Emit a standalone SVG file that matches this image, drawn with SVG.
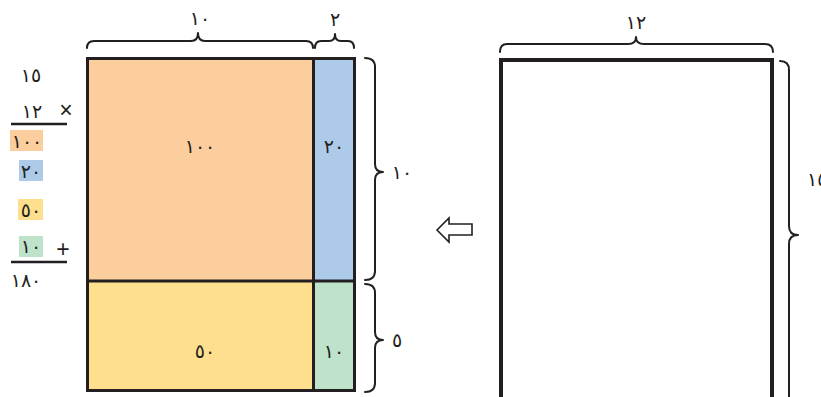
<svg xmlns="http://www.w3.org/2000/svg" width="821" height="397" viewBox="0 0 821 397">
<style>
.t{font-family:"DejaVu Sans",sans-serif;font-size:19px;letter-spacing:1px;fill:#231f20;text-anchor:middle;dominant-baseline:central}
.s{font-family:"Liberation Sans",sans-serif;font-size:23px;fill:#231f20;text-anchor:middle;dominant-baseline:central}
.b{fill:none;stroke:#231f20;stroke-width:2;stroke-linejoin:round;stroke-linecap:round}
.r{stroke:#231f20;stroke-width:3}
.ln{stroke:#231f20;stroke-width:2.5}
</style>
<rect width="821" height="397" fill="#fff"/>
<g id="calc">
<text class="t" x="31" y="75">١٥</text>
<text class="t" x="32" y="111">١٢</text>
<text class="s" x="66" y="110">×</text>
<line class="ln" x1="11" y1="124" x2="67" y2="124"/>
<rect x="10" y="130" width="33" height="21" fill="#fdce9d"/>
<text class="t" x="27" y="141">١٠٠</text>
<rect x="19" y="160" width="24" height="21" fill="#adcbe9"/>
<text class="t" x="31" y="171">٢٠</text>
<rect x="18" y="199" width="25" height="21" fill="#fddf8e"/>
<text class="t" x="31" y="210">٥٠</text>
<rect x="19" y="236" width="24" height="21" fill="#bfe3ca"/>
<text class="t" x="31" y="246">١٠</text>
<text class="s" x="63" y="249">+</text>
<line class="ln" x1="11" y1="262" x2="67" y2="262"/>
<text class="t" x="26" y="280">١٨٠</text>
</g>
<g id="area">
<rect x="87.5" y="58.5" width="226" height="222.5" fill="#fdce9d"/>
<rect x="313.5" y="58.5" width="41" height="222.5" fill="#adcbe9"/>
<rect x="87.5" y="281" width="226" height="109.5" fill="#fddf8e"/>
<rect x="313.5" y="281" width="41" height="109.5" fill="#bfe3ca"/>
<rect class="r" x="87.5" y="58.5" width="267" height="332" fill="none"/>
<line class="r" x1="313.5" y1="58.5" x2="313.5" y2="390.5"/>
<line class="r" x1="87.5" y1="281" x2="354.5" y2="281"/>
<text class="t" x="200" y="146">١٠٠</text>
<text class="t" x="334" y="146">٢٠</text>
<text class="t" x="205" y="351">٥٠</text>
<text class="t" x="334" y="351">١٠</text>
</g>
<g id="braces-left">
<path class="b" d="M87,48 Q87,41 94,41 L191,41 Q198,41 198,33 Q198,41 205,41 L306,41 Q313,41 313,48"/>
<text class="t" x="200" y="18">١٠</text>
<path class="b" d="M315,48 Q315,41 321,41 L329,41 Q335,41 335,34 Q335,41 341,41 L348,41 Q354,41 354,48"/>
<text class="t" x="335" y="19">٢</text>
<path class="b" d="M365,58 Q375,58 375,67 L375,164 Q375,172 383,172 Q375,172 375,180 L375,271 Q375,280 365,280"/>
<text class="t" x="402" y="172">١٠</text>
<path class="b" d="M365,284 Q375,284 375,293 L375,332 Q375,340 383,340 Q375,340 375,348 L375,383 Q375,392 365,392"/>
<text class="t" x="397" y="340">٥</text>
</g>
<g id="connectors">
<path d="M437,230 L449,218 L449,224 L472,224 L472,235 L449,235 L449,242 Z" fill="#fff" stroke="#231f20" stroke-width="1.6" stroke-linejoin="miter"/>
</g>
<g id="target">
<rect x="501" y="60" width="271" height="400" fill="none" stroke="#231f20" stroke-width="4"/>
<path class="b" d="M500,52 Q500,44 507,44 L628,44 Q636,44 636,37 Q636,44 644,44 L765,44 Q773,44 773,52"/>
<text class="t" x="636" y="22">١٢</text>
<path class="b" d="M780,61 Q789,61 789,70 L789,226 Q789,235 798,235 Q789,235 789,244 L789,400"/>
<text class="t" x="807" y="179" style="text-anchor:start">١٥</text>
</g>
</svg>
